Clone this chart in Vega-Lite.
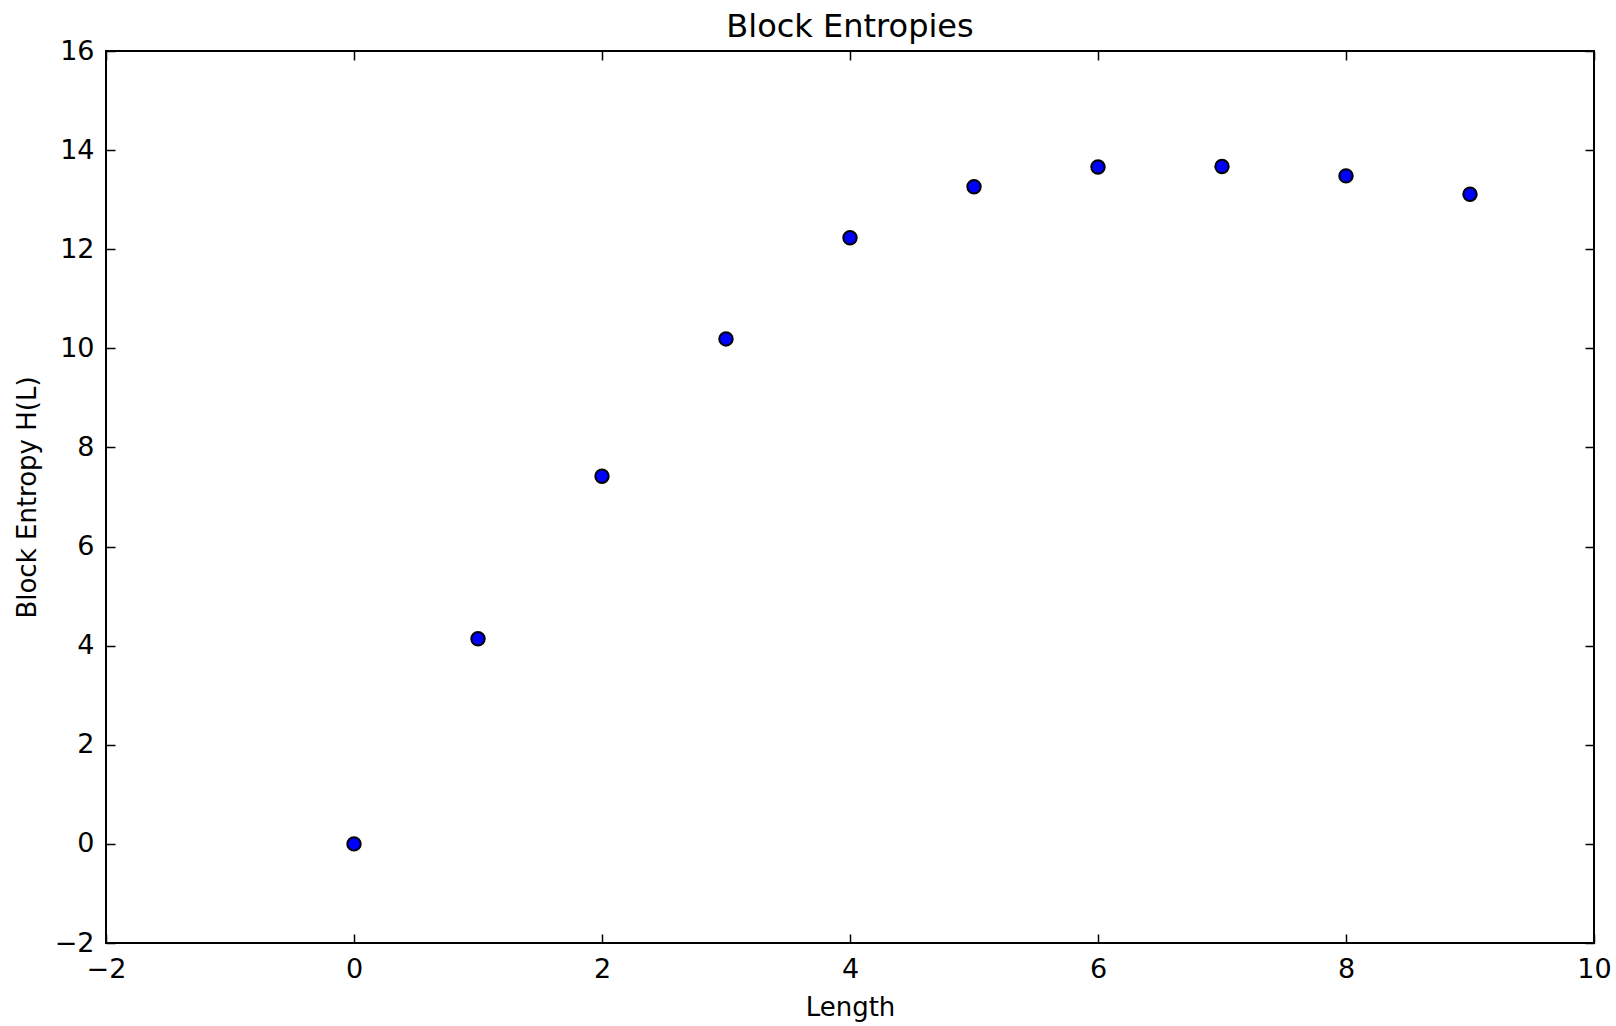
{
  "$schema": "https://vega.github.io/schema/vega-lite/v6.json",
  "width": 1488,
  "height": 892,
  "autosize": {"type": "none"},
  "padding": {"left": 106, "top": 51, "right": 22, "bottom": 83},
  "background": "white",
  "title": {"text": "Block Entropies", "font": "DejaVu Sans", "fontSize": 32, "fontWeight": "normal", "color": "black", "anchor": "middle", "frame": "group", "baseline": "alphabetic", "offset": 14, "dy": 46},
  "config": {
    "view": {"stroke": "black", "strokeWidth": 2},
    "axis": {"grid": false, "domain": false, "tickColor": "black", "tickWidth": 1.5, "labelColor": "black", "titleColor": "black", "labelFont": "DejaVu Sans", "titleFont": "DejaVu Sans", "labelFontSize": 27, "titleFontSize": 26, "titleFontWeight": "normal"}
  },
  "data": {"values": [
    {"length": 0, "entropy": 0.0},
    {"length": 1, "entropy": 4.14},
    {"length": 2, "entropy": 7.42},
    {"length": 3, "entropy": 10.19},
    {"length": 4, "entropy": 12.23},
    {"length": 5, "entropy": 13.26},
    {"length": 6, "entropy": 13.66},
    {"length": 7, "entropy": 13.67},
    {"length": 8, "entropy": 13.48},
    {"length": 9, "entropy": 13.11}
  ]},
  "resolve": {"axis": {"x": "independent", "y": "independent"}},
  "layer": [
    {
      "mark": {"type": "point", "shape": "circle", "filled": true, "fill": "#0000ff", "stroke": "black", "strokeWidth": 2, "size": 180, "opacity": 1},
      "encoding": {
        "x": {"field": "length", "type": "quantitative", "scale": {"domain": [-2, 10], "nice": false, "zero": false},
              "axis": {"title": "Length", "values": [-2, 0, 2, 4, 6, 8, 10], "tickSize": -9, "labelPadding": 22, "titlePadding": 12, "labelFlush": false, "labelOverlap": false, "labelExpr": "replace(datum.label, '-', '\u2212')"}},
        "y": {"field": "entropy", "type": "quantitative", "scale": {"domain": [-2, 16], "nice": false, "zero": false},
              "axis": {"title": "Block Entropy H(L)", "values": [-2, 0, 2, 4, 6, 8, 10, 12, 14, 16], "tickSize": -9, "labelPadding": 21, "titlePadding": 14, "labelFlush": false, "labelOverlap": false, "labelExpr": "replace(datum.label, '-', '\u2212')"}}
      }
    },
    {
      "mark": {"type": "point", "opacity": 0},
      "encoding": {
        "x": {"field": "length", "type": "quantitative", "scale": {"domain": [-2, 10], "nice": false, "zero": false},
              "axis": {"orient": "top", "title": null, "labels": false, "minExtent": 0, "maxExtent": 0, "values": [-2, 0, 2, 4, 6, 8, 10], "tickSize": -9}},
        "y": {"field": "entropy", "type": "quantitative", "scale": {"domain": [-2, 16], "nice": false, "zero": false},
              "axis": {"orient": "right", "title": null, "labels": false, "minExtent": 0, "maxExtent": 0, "values": [-2, 0, 2, 4, 6, 8, 10, 12, 14, 16], "tickSize": -9}}
      }
    }
  ]
}
